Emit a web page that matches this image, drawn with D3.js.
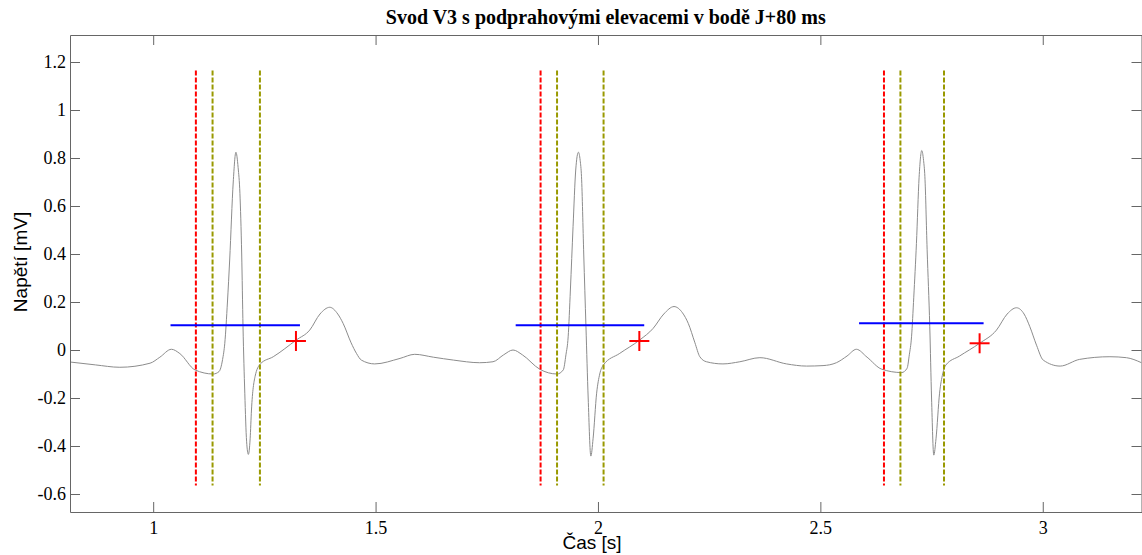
<!DOCTYPE html>
<meta charset="utf-8">
<style>
body { margin: 0; background: #fff; }
.axis path, .axis line { stroke: #666; }
.title { font-family: "Liberation Serif", "Times New Roman", serif; font-size: 20px; font-weight: bold; }
.label { font-family: "Liberation Sans", Arial, sans-serif; font-size: 19px; }
</style>
<svg width="1142" height="555"></svg>
<script src="https://d3js.org/d3.v7.min.js"></script>
<script>

// ECG trace, V3 lead (time in s, voltage in mV)
var ecgTime = [0.813, 0.87, 0.925, 0.993, 1.015, 1.041, 1.06, 1.094, 1.135, 1.148, 1.156, 1.161, 1.167, 1.172, 1.18, 1.186, 1.191, 1.195, 1.199, 1.202, 1.206, 1.210, 1.214, 1.218, 1.221, 1.229, 1.241, 1.27, 1.322, 1.352, 1.375, 1.397, 1.415, 1.427, 1.445, 1.457, 1.468, 1.498, 1.555, 1.588, 1.63, 1.675, 1.734, 1.764, 1.788, 1.809, 1.83, 1.869, 1.908, 1.922, 1.928, 1.933, 1.938, 1.944, 1.950, 1.956, 1.960, 1.963, 1.968, 1.973, 1.978, 1.984, 1.989, 1.997, 2.004, 2.012, 2.049, 2.094, 2.124, 2.148, 2.171, 2.19, 2.203, 2.218, 2.229, 2.244, 2.281, 2.319, 2.364, 2.424, 2.469, 2.506, 2.536, 2.56, 2.581, 2.605, 2.638, 2.683, 2.695, 2.700, 2.705, 2.710, 2.716, 2.722, 2.728, 2.732, 2.735, 2.740, 2.746, 2.750, 2.755, 2.760, 2.768, 2.775, 2.782, 2.813, 2.858, 2.896, 2.92, 2.941, 2.958, 2.971, 2.986, 3.001, 3.039, 3.083, 3.151, 3.188, 3.222];
var ecgVolt = [-0.050, -0.062, -0.072, -0.055, -0.030, 0.003, -0.015, -0.083, -0.100, -0.090, -0.040, 0.028, 0.20, 0.375, 0.70, 0.824, 0.76, 0.653, 0.40, 0.097, -0.18, -0.38, -0.435, -0.37, -0.25, -0.111, -0.058, -0.028, 0.042, 0.083, 0.15, 0.178, 0.15, 0.111, 0.03, -0.014, -0.042, -0.058, -0.035, -0.018, -0.03, -0.042, -0.053, -0.049, -0.02, 0.000, -0.02, -0.080, -0.100, -0.083, -0.02, 0.055, 0.25, 0.514, 0.75, 0.824, 0.79, 0.722, 0.40, 0.097, -0.20, -0.442, -0.37, -0.18, -0.10, -0.063, -0.014, 0.042, 0.090, 0.15, 0.181, 0.155, 0.111, 0.03, -0.028, -0.049, -0.058, -0.049, -0.032, -0.058, -0.067, -0.065, -0.053, -0.025, 0.003, -0.03, -0.080, -0.094, -0.076, -0.02, 0.055, 0.22, 0.444, 0.72, 0.831, 0.79, 0.722, 0.42, 0.097, -0.20, -0.438, -0.37, -0.18, -0.10, -0.063, -0.025, 0.028, 0.083, 0.15, 0.176, 0.15, 0.097, 0.02, -0.042, -0.067, -0.039, -0.028, -0.032, -0.053];

// per-beat markers
var qrsOnset = [1.096, 1.871, 2.643];       // red dashed
var qrsStart = [1.1335, 1.908, 2.680];      // olive dashed
var qrsEnd = [1.240, 2.0126, 2.778];        // olive dashed
var markerSpan = [-0.565, 1.165];           // vertical extent of dashed lines
var levelStart = [1.039, 1.815, 2.587];     // blue line
var levelEnd = [1.330, 2.104, 2.867];
var levelValue = [0.103, 0.103, 0.111];
var j80Time = [1.321, 2.093, 2.858];        // red plus
var j80Volt = [0.0375, 0.0375, 0.028];

var xTicks = [1, 1.5, 2, 2.5, 3];
var yTicks = [-0.6, -0.4, -0.2, 0, 0.2, 0.4, 0.6, 0.8, 1, 1.2];

var svg = d3.select("svg"),
    margin = {top: 35, right: 0.5, bottom: 43, left: 70},
    width = +svg.attr("width") - margin.left - margin.right,
    height = +svg.attr("height") - margin.top - margin.bottom;

var x = d3.scaleLinear().domain([0.813, 3.222]).range([0, width]);
var y = d3.scaleLinear().domain([-0.675, 1.3125]).range([height, 0]);

var g = svg.append("g")
    .attr("transform", "translate(" + margin.left + "," + margin.top + ")");

g.append("clipPath").attr("id", "clip")
  .append("rect").attr("width", width).attr("height", height);

var plot = g.append("g").attr("clip-path", "url(#clip)");

// ecg trace
var line = d3.line()
    .x(function(d) { return x(d[0]); })
    .y(function(d) { return y(d[1]); })
    .curve(d3.curveMonotoneX);

plot.append("path")
    .datum(ecgTime.map(function(t, i) { return [t, ecgVolt[i]]; }))
    .attr("d", line)
    .attr("fill", "none")
    .attr("stroke", "#8c8c8c")
    .attr("stroke-width", 1);

// dashed vertical markers
function vlines(times, colour) {
  plot.selectAll(null)
    .data(times)
    .enter().append("line")
      .attr("x1", function(d) { return x(d); })
      .attr("x2", function(d) { return x(d); })
      .attr("y1", y(markerSpan[1]))
      .attr("y2", y(markerSpan[0]))
      .attr("stroke", colour)
      .attr("stroke-width", 2)
      .attr("stroke-dasharray", "5,2");
}
vlines(qrsOnset, "#ff0000");
vlines(qrsStart, "#999900");
vlines(qrsEnd, "#999900");

// blue level lines
plot.selectAll(".level")
  .data(levelStart)
  .enter().append("line")
    .attr("class", "level")
    .attr("x1", function(d) { return x(d); })
    .attr("x2", function(d, i) { return x(levelEnd[i]); })
    .attr("y1", function(d, i) { return y(levelValue[i]); })
    .attr("y2", function(d, i) { return y(levelValue[i]); })
    .attr("stroke", "#0000ff")
    .attr("stroke-width", 2);

// J+80 plus markers
var plus = plot.selectAll(".plus")
  .data(j80Time)
  .enter().append("g")
    .attr("class", "plus")
    .attr("transform", function(d, i) { return "translate(" + x(d) + "," + y(j80Volt[i]) + ")"; });
plus.append("line").attr("x1", -10).attr("x2", 10).attr("stroke", "#ff0000").attr("stroke-width", 2);
plus.append("line").attr("y1", -10).attr("y2", 10).attr("stroke", "#ff0000").attr("stroke-width", 2);

// axes (box with inward ticks)
var fmt = function(d) { return String(d); };

g.append("g")
    .attr("class", "axis")
    .attr("transform", "translate(0," + height + ")")
    .call(d3.axisBottom(x).tickValues(xTicks).tickFormat(fmt).tickSizeInner(-10).tickSizeOuter(0).tickPadding(9));

g.append("g")
    .attr("class", "axis")
    .call(d3.axisTop(x).tickValues(xTicks).tickFormat("").tickSizeInner(-10).tickSizeOuter(0));

g.append("g")
    .attr("class", "axis")
    .call(d3.axisLeft(y).tickValues(yTicks).tickFormat(fmt).tickSizeInner(-10).tickSizeOuter(0).tickPadding(4));

g.append("g")
    .attr("class", "axis")
    .attr("transform", "translate(" + width + ",0)")
    .call(d3.axisRight(y).tickValues(yTicks).tickFormat("").tickSizeInner(-10).tickSizeOuter(0));

g.selectAll(".axis")
    .attr("font-family", "Liberation Serif")
    .attr("font-size", 18);

g.selectAll(".axis text")
    .style("font-family", "'Liberation Serif', 'Times New Roman', serif")
    .style("font-size", "18px")
    .attr("fill", "#000");

svg.append("text")
    .attr("class", "title")
    .attr("x", margin.left + width / 2)
    .attr("y", 24)
    .attr("text-anchor", "middle")
    .text("Svod V3 s podprahovými elevacemi v bodě J+80 ms");

svg.append("text")
    .attr("class", "label")
    .attr("x", 592)
    .attr("y", 549)
    .attr("text-anchor", "middle")
    .text("Čas [s]");

svg.append("text")
    .attr("class", "label")
    .attr("transform", "translate(27,262) rotate(-90)")
    .attr("text-anchor", "middle")
    .text("Napětí [mV]");

</script>
